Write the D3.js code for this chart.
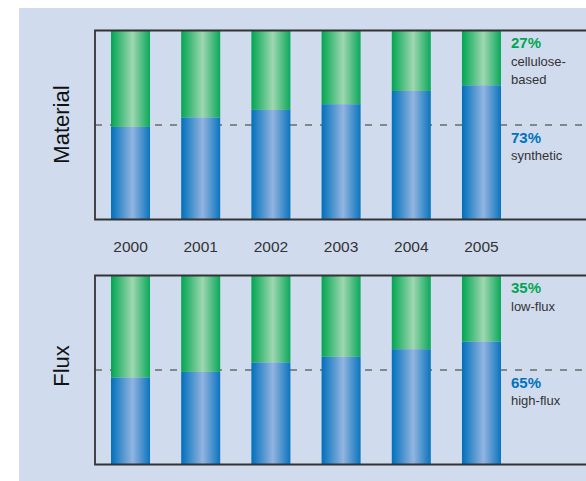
<!DOCTYPE html>
<html>
<head>
<meta charset="utf-8">
<script src="https://cdn.jsdelivr.net/npm/d3@7"></script>
<style>
  html, body { margin: 0; padding: 0; background: #ffffff; }
  svg { display: block; }
  text { font-family: "Liberation Sans", Arial, Helvetica, sans-serif; }
</style>
</head>
<body>
<svg id="chart" width="586" height="481"></svg>
<script>
// ---- data ----
const years = ["2000", "2001", "2002", "2003", "2004", "2005"];
const materialSynthetic = [49, 54, 58, 61, 68, 71];   // % synthetic (blue)
const fluxHigh = [46, 49, 54, 57, 61, 65];            // % high-flux (blue)
const panelTitles = ["Material", "Flux"];
const materialLabels = { topPct: "27%", topText: ["cellulose-", "based"], botPct: "73%", botText: ["synthetic"] };
const fluxLabels = { topPct: "35%", topText: ["low-flux"], botPct: "65%", botText: ["high-flux"] };

const svg = d3.select("#chart");
const W = 586, H = 481;

// background panel
svg.append("rect").attr("x", 19).attr("y", 8).attr("width", W - 19).attr("height", H - 8)
  .attr("fill", "#d0dcee");

// gradients
const defs = svg.append("defs");
function grad(id, edgeL, light, edgeR) {
  const g = defs.append("linearGradient").attr("id", id)
    .attr("x1", 0).attr("x2", 1).attr("y1", 0).attr("y2", 0);
  g.append("stop").attr("offset", 0).attr("stop-color", edgeL);
  g.append("stop").attr("offset", 0.55).attr("stop-color", light);
  g.append("stop").attr("offset", 1).attr("stop-color", edgeR);
}
grad("gGreen", "#00a651", "#9fd7b1", "#0aa85a");
grad("gBlue", "#0070bb", "#93b4e0", "#0a74be");

const x = d3.scaleBand().domain(years).range([95, 517])
  .paddingInner(0.444).paddingOuter(0.228);

function drawPanel(top, bottom, values, title, titleY, labels) {
  const y = d3.scaleLinear().domain([0, 100]).range([bottom, top]);
  const g = svg.append("g");

  // dashed 50% line
  g.append("line").attr("x1", 95).attr("x2", W)
    .attr("y1", y(50)).attr("y2", y(50))
    .attr("stroke", "#6a6a6a").attr("stroke-width", 1.5)
    .attr("stroke-dasharray", "7,8");

  // bars
  const bars = g.selectAll("g.bar").data(years.map((yr, i) => ({ yr, v: values[i] })))
    .enter().append("g");
  bars.append("rect")
    .attr("x", d => x(d.yr)).attr("width", x.bandwidth())
    .attr("y", y(100)).attr("height", d => y(d.v) - y(100))
    .attr("fill", "url(#gGreen)");
  bars.append("rect")
    .attr("x", d => x(d.yr)).attr("width", x.bandwidth())
    .attr("y", d => y(d.v)).attr("height", d => y(0) - y(d.v))
    .attr("fill", "url(#gBlue)");

  // frame: top, left, bottom
  const frame = d3.path();
  frame.moveTo(W, top); frame.lineTo(95, top); frame.lineTo(95, bottom); frame.lineTo(W, bottom);
  g.append("path").attr("d", frame.toString()).attr("fill", "none")
    .attr("stroke", "#333333").attr("stroke-width", 1.8);

  // title
  g.append("text").attr("transform", `translate(69,${titleY}) rotate(-90)`)
    .attr("text-anchor", "middle").attr("font-size", 22).attr("fill", "#111")
    .text(title);

  // right labels
  const lx = 511;
  const tBase = top + 17;
  g.append("text").attr("x", lx).attr("y", tBase).attr("font-size", 15)
    .attr("font-weight", "bold").attr("fill", "#00a651").text(labels.topPct);
  labels.topText.forEach((t, i) => {
    g.append("text").attr("x", lx).attr("y", tBase + 18 + i * 18.5).attr("font-size", 13)
      .attr("fill", "#333").text(t);
  });
  const bBase = y(50) + 17.5;
  g.append("text").attr("x", lx).attr("y", bBase).attr("font-size", 15)
    .attr("font-weight", "bold").attr("fill", "#0072bc").text(labels.botPct);
  labels.botText.forEach((t, i) => {
    g.append("text").attr("x", lx).attr("y", bBase + 17 + i * 18).attr("font-size", 13)
      .attr("fill", "#333").text(t);
  });
  return y;
}

drawPanel(30.5, 219.5, materialSynthetic, panelTitles[0], 124.5, materialLabels);
drawPanel(275.5, 464.5, fluxHigh, panelTitles[1], 366, fluxLabels);

// year axis labels between panels
const xAxis = d3.axisBottom(x).tickSize(0).tickPadding(0);
const ax = svg.append("g").attr("transform", "translate(0,240)").call(xAxis);
ax.select(".domain").remove();
ax.selectAll("text").attr("font-size", 15.5).attr("fill", "#333")
  .attr("font-family", "'Liberation Sans', Arial, sans-serif").attr("dy", "0.8em");
</script>
</body>
</html>
